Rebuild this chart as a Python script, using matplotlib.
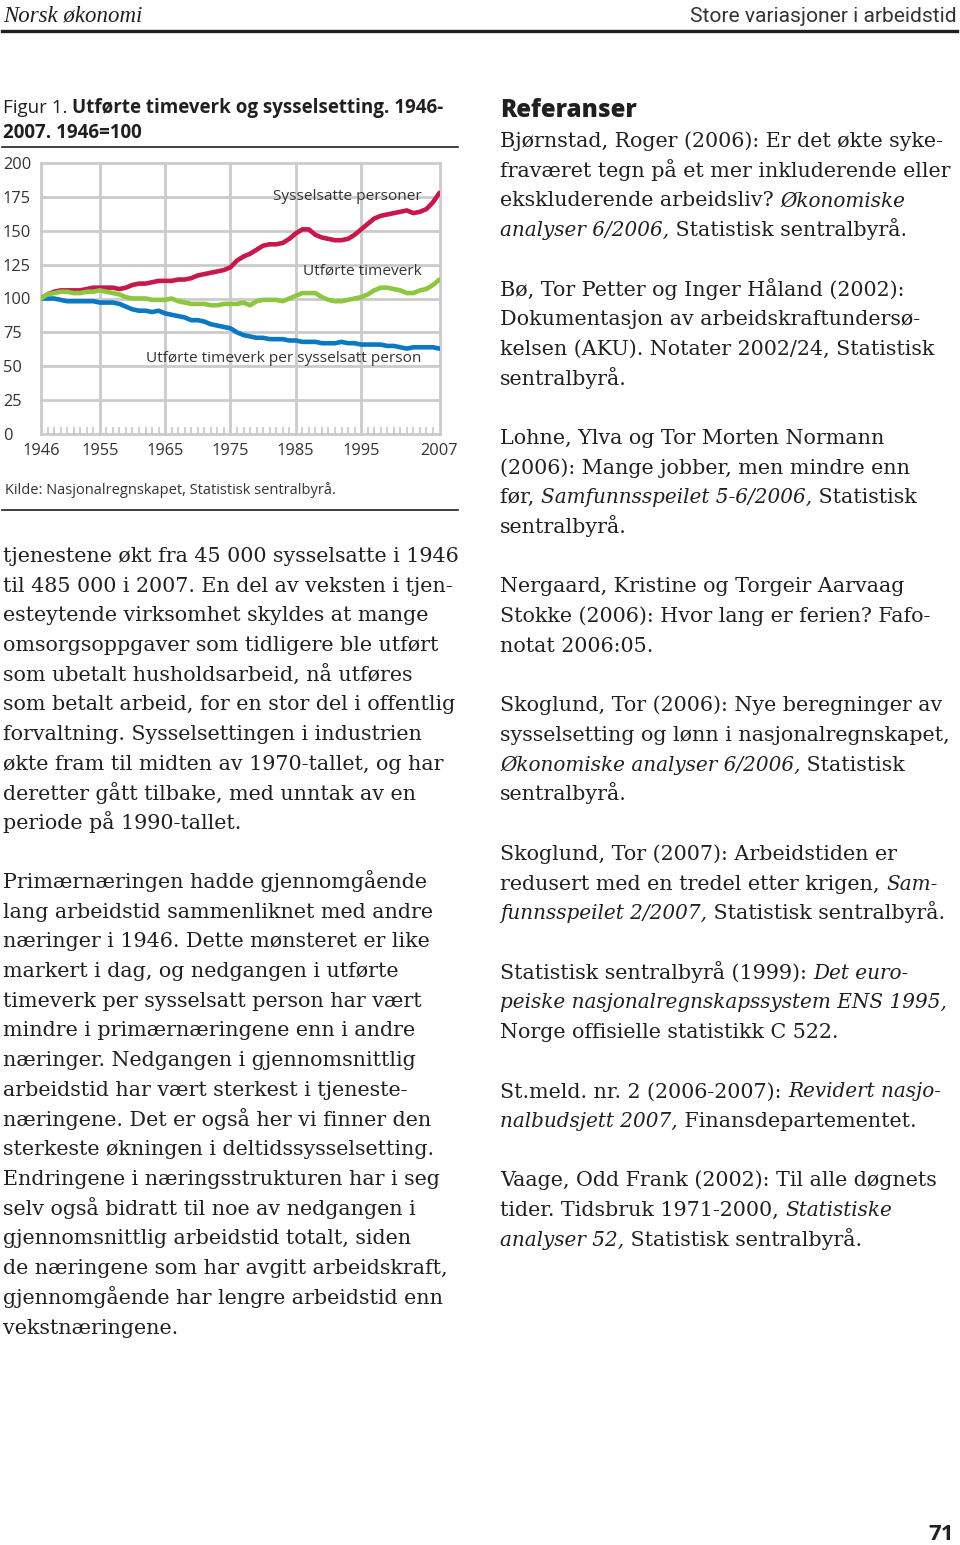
import matplotlib
matplotlib.use("Agg")
import matplotlib.pyplot as plt

# ---- data (1946=100) ----
years = list(range(1946, 2008))

sysselsatte = [100, 103, 105, 106, 106, 106, 106, 107, 108, 108,
               108, 108, 107, 108, 110, 111, 111, 112, 113, 113,
               113, 114, 114, 115, 117, 118, 119, 120, 121, 123,
               128, 131, 133, 136, 139, 140, 140, 141, 144, 148,
               151, 151, 147, 145, 144, 143, 143, 144, 147, 151,
               155, 159, 161, 162, 163, 164, 165, 163, 164, 166,
               171, 178]

timeverk = [100, 103, 104, 105, 105, 104, 104, 105, 105, 106,
            105, 104, 103, 101, 100, 100, 100, 99, 99, 99,
            100, 98, 97, 96, 96, 96, 95, 95, 96, 96,
            96, 97, 95, 98, 99, 99, 99, 98, 100, 102,
            104, 104, 104, 101, 99, 98, 98, 99, 100, 101,
            103, 106, 108, 108, 107, 106, 104, 104, 106, 107,
            110, 114]

per_person = [100, 100, 100, 99, 98, 98, 98, 98, 98, 97,
              97, 97, 96, 94, 92, 91, 91, 90, 91, 89,
              88, 87, 86, 84, 84, 83, 81, 80, 79, 78,
              75, 73, 72, 71, 71, 70, 70, 70, 69, 69,
              68, 68, 68, 67, 67, 67, 68, 67, 67, 66,
              66, 66, 66, 65, 65, 64, 63, 64, 64, 64,
              64, 63]

x_ticks = [1946, 1955, 1965, 1975, 1985, 1995, 2007]
y_ticks = [0, 25, 50, 75, 100, 125, 150, 175, 200]

left_par1 = [
    "tjenestene økt fra 45 000 sysselsatte i 1946",
    "til 485 000 i 2007. En del av veksten i tjen-",
    "esteytende virksomhet skyldes at mange",
    "omsorgsoppgaver som tidligere ble utført",
    "som ubetalt husholdsarbeid, nå utføres",
    "som betalt arbeid, for en stor del i offentlig",
    "forvaltning. Sysselsettingen i industrien",
    "økte fram til midten av 1970-tallet, og har",
    "deretter gått tilbake, med unntak av en",
    "periode på 1990-tallet.",
]
left_par2 = [
    "Primærnæringen hadde gjennomgående",
    "lang arbeidstid sammenliknet med andre",
    "næringer i 1946. Dette mønsteret er like",
    "markert i dag, og nedgangen i utførte",
    "timeverk per sysselsatt person har vært",
    "mindre i primærnæringene enn i andre",
    "næringer. Nedgangen i gjennomsnittlig",
    "arbeidstid har vært sterkest i tjeneste-",
    "næringene. Det er også her vi finner den",
    "sterkeste økningen i deltidssysselsetting.",
    "Endringene i næringsstrukturen har i seg",
    "selv også bidratt til noe av nedgangen i",
    "gjennomsnittlig arbeidstid totalt, siden",
    "de næringene som har avgitt arbeidskraft,",
    "gjennomgående har lengre arbeidstid enn",
    "vekstnæringene.",
]

# references: each line is a list of (text, italic)
references = [
    [[("Bjørnstad, Roger (2006): Er det økte syke-", False)],
     [("fraværet tegn på et mer inkluderende eller", False)],
     [("ekskluderende arbeidsliv? ", False), ("Økonomiske", True)],
     [("analyser 6/2006,", True), (" Statistisk sentralbyrå.", False)]],
    [[("Bø, Tor Petter og Inger Håland (2002):", False)],
     [("Dokumentasjon av arbeidskraftundersø-", False)],
     [("kelsen (AKU). Notater 2002/24, Statistisk", False)],
     [("sentralbyrå.", False)]],
    [[("Lohne, Ylva og Tor Morten Normann", False)],
     [("(2006): Mange jobber, men mindre enn", False)],
     [("før, ", False), ("Samfunnsspeilet 5-6/2006,", True), (" Statistisk", False)],
     [("sentralbyrå.", False)]],
    [[("Nergaard, Kristine og Torgeir Aarvaag", False)],
     [("Stokke (2006): Hvor lang er ferien? Fafo-", False)],
     [("notat 2006:05.", False)]],
    [[("Skoglund, Tor (2006): Nye beregninger av", False)],
     [("sysselsetting og lønn i nasjonalregnskapet,", False)],
     [("Økonomiske analyser 6/2006,", True), (" Statistisk", False)],
     [("sentralbyrå.", False)]],
    [[("Skoglund, Tor (2007): Arbeidstiden er", False)],
     [("redusert med en tredel etter krigen, ", False), ("Sam-", True)],
     [("funnsspeilet 2/2007,", True), (" Statistisk sentralbyrå.", False)]],
    [[("Statistisk sentralbyrå (1999): ", False), ("Det euro-", True)],
     [("peiske nasjonalregnskapssystem ENS 1995,", True)],
     [("Norge offisielle statistikk C 522.", False)]],
    [[("St.meld. nr. 2 (2006-2007): ", False), ("Revidert nasjo-", True)],
     [("nalbudsjett 2007,", True), (" Finansdepartementet.", False)]],
    [[("Vaage, Odd Frank (2002): Til alle døgnets", False)],
     [("tider. Tidsbruk 1971-2000, ", False), ("Statistiske", True)],
     [("analyser 52,", True), (" Statistisk sentralbyrå.", False)]],
]

# ---- page ----
W, H = 960, 1545
fig = plt.figure(figsize=(W / 100, H / 100), dpi=100)
fig.patch.set_facecolor("white")
page = fig.add_axes([0, 0, 1, 1])
page.set_xlim(0, W)
page.set_ylim(H, 0)
page.axis("off")
R = fig.canvas.get_renderer()

INK = "#231f20"
SANS = "Open Sans"
SERIF = "DejaVu Serif"
BODY = 14.9
BODY_IT = 14.4


def adv(s, props):
    a = page.text(0, 0, s + "|", **props)
    b = page.text(0, 0, "|", **props)
    w = a.get_window_extent(R).width - b.get_window_extent(R).width
    a.remove()
    b.remove()
    return w


def runs(x, y, parts):
    for txt, props in parts:
        page.text(x, y, txt, ha="left", va="baseline", color=INK, **props)
        x += adv(txt, props)


def fitted(s, props, target):
    # font size giving the text the width it has on the page
    return props["fontsize"] * target / adv(s, props)


# header
hl = dict(family="Liberation Serif", style="italic", fontsize=15)
hl["fontsize"] = fitted("Norsk økonomi", hl, 140)
page.text(3, 22, "Norsk økonomi", color=INK, va="baseline", **hl)
hr = dict(family="Roboto", fontsize=15)
hr["fontsize"] = fitted("Store variasjoner i arbeidstid", hr, 267)
page.text(957, 22, "Store variasjoner i arbeidstid", color="#333333",
          ha="right", va="baseline", **hr)
page.plot([2, 957], [31, 31], color=INK, lw=2.4)

# figure title
reg = dict(family=SANS, fontsize=13.5)
bold = dict(family=SANS, fontsize=13.5, weight="bold")
runs(3, 113, [("Figur 1. ", reg), ("Utførte timeverk og sysselsetting. 1946-", bold)])
runs(3, 138, [("2007. 1946=100", bold)])
page.plot([2, 458], [147, 147], color=INK, lw=1.2)
page.text(5, 494, "Kilde: Nasjonalregnskapet, Statistisk sentralbyrå.",
          family=SANS, fontsize=10.5, color="#333333", va="baseline")
page.plot([2, 458], [510, 510], color=INK, lw=1.2)

# body text, left column
lh = 29.7
for i, line in enumerate(left_par1):
    page.text(3, 562 + i * lh, line, family=SERIF, fontsize=BODY, color=INK,
              va="baseline")
for i, line in enumerate(left_par2):
    page.text(3, 888 + i * lh, line, family=SERIF, fontsize=BODY, color=INK,
              va="baseline")

# references, right column
page.text(500, 117, "Referanser", family=SANS, weight="heavy", fontsize=17.3,
          color=INK, va="baseline")
k = 0
for ref in references:
    for line in ref:
        parts = []
        for txt, ital in line:
            if ital:
                p = dict(family=SERIF, fontsize=BODY_IT, style="italic")
            else:
                p = dict(family=SERIF, fontsize=BODY)
            parts.append((txt, p))
        runs(500, 147 + k * lh, parts)
        k += 1
    k += 1

page.text(954, 1540, "71", family=SANS, weight="bold", fontsize=16,
          color=INK, ha="right", va="baseline")

# ---- chart ----
x0, x1, ytop, ybot = 41, 439.5, 163, 434
ax = fig.add_axes([x0 / W, 1 - ybot / H, (x1 - x0) / W, (ybot - ytop) / H])
ax.set_xlim(1946, 2007)
ax.set_ylim(0, 200)
ax.patch.set_alpha(0)
for s in ax.spines.values():
    s.set_visible(False)

GRID = "#cbcbcb"
ax.set_xticks(x_ticks)
ax.set_yticks(y_ticks)
ax.set_xticks(years, minor=True)
ax.grid(True, which="major", color=GRID, lw=2)
for gl in ax.get_xgridlines() + ax.get_ygridlines():
    gl.set_clip_on(False)
ax.tick_params(axis="x", which="major", length=0, pad=6.5,
               labelsize=11.8, labelcolor="#333333")
ax.tick_params(axis="x", which="minor", direction="in", length=5,
               width=1.3, color=GRID)
ax.tick_params(axis="y", length=0, pad=27.4, labelsize=11.8,
               labelcolor="#333333")
for lab in ax.get_yticklabels():
    lab.set_ha("left")
    lab.set_family(SANS)
for lab in ax.get_xticklabels():
    lab.set_family(SANS)

ax.plot(years, sysselsatte, color="#c8174b", lw=3.3, solid_capstyle="round",
        solid_joinstyle="round")
ax.plot(years, per_person, color="#0a78c2", lw=3.3, solid_capstyle="round",
        solid_joinstyle="round")
ax.plot(years, timeverk, color="#8dc63f", lw=3.3, solid_capstyle="round",
        solid_joinstyle="round")

lab_kw = dict(family=SANS, fontsize=11.1, color="#333333", ha="right",
              va="center")
ax.text(2004.3, 175.5, "Sysselsatte personer", **lab_kw)
ax.text(2004.3, 120.5, "Utførte timeverk", **lab_kw)
ax.text(2004.3, 55.5, "Utførte timeverk per sysselsatt person", **lab_kw)

fig.savefig("out.png", dpi=100)
